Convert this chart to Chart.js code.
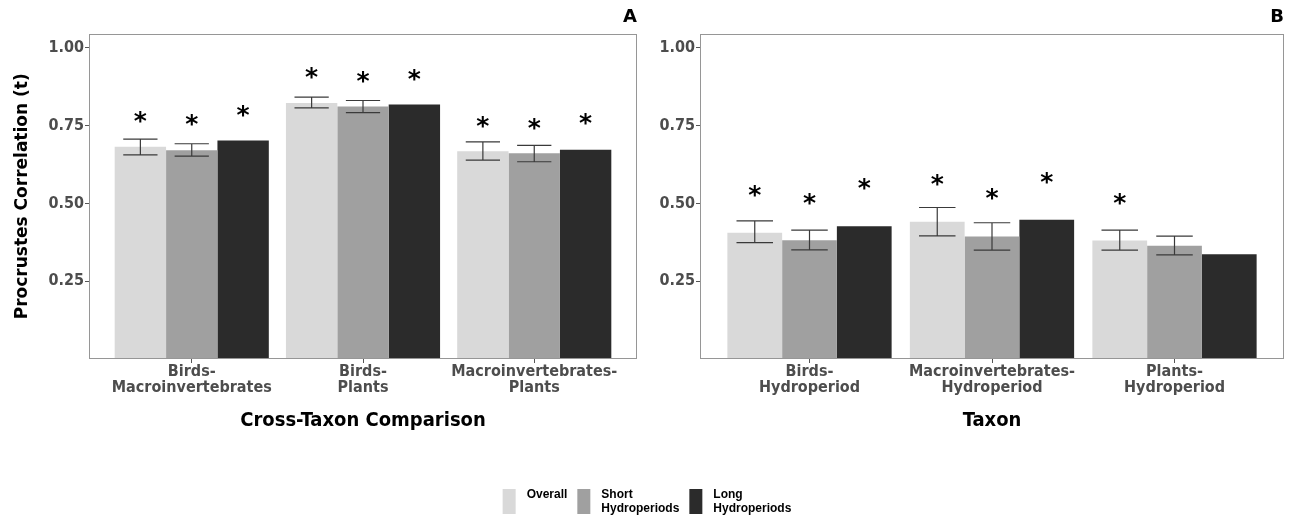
<!DOCTYPE html>
<html>
<head>
<meta charset="utf-8">
<script src="https://cdn.jsdelivr.net/npm/chart.js@4.4.1/dist/chart.umd.min.js"></script>
<style>
    body { margin: 0; background: #fff; width: 1294px; height: 516px; position: relative; overflow: hidden; }
    .panel { position: absolute; }
    #panelA { left: 0; top: 0; width: 647px; height: 440px; }
    #panelB { left: 647px; top: 0; width: 647px; height: 440px; }
    #panelLegend { left: 0; top: 476px; width: 1294px; height: 40px; }
</style>
</head>
<body>
<div class="panel" id="panelA"><canvas id="crossTaxonChart"></canvas></div>
<div class="panel" id="panelB"><canvas id="taxonChart"></canvas></div>
<div class="panel" id="panelLegend"><canvas id="legendChart"></canvas></div>
<script>
// 공통 시리즈
const seriesNames = ['Overall', 'Short Hydroperiods', 'Long Hydroperiods'];
const seriesLegend = [['Overall'], ['Short', 'Hydroperiods'], ['Long', 'Hydroperiods']];
const seriesColors = ['#d9d9d9', '#a0a0a0', '#2b2b2b'];
const yTicks = [0.25, 0.50, 0.75, 1.00];

// A: Cross-Taxon Comparison
const crossLabels = [['Birds-', 'Macroinvertebrates'], ['Birds-', 'Plants'], ['Macroinvertebrates-', 'Plants']];
const crossOverall = [0.682, 0.823, 0.668];
const crossShort = [0.671, 0.812, 0.661];
const crossLong = [0.702, 0.818, 0.673];
const crossOverallErr = [[0.656, 0.707], [0.807, 0.842], [0.639, 0.698]];
const crossShortErr = [[0.652, 0.692], [0.792, 0.831], [0.634, 0.687]];
const crossOverallStar = [0.777, 0.920, 0.763];
const crossShortStar = [0.767, 0.905, 0.754];
const crossLongStar = [0.797, 0.913, 0.770];

// B: Taxon
const taxonLabels = [['Birds-', 'Hydroperiod'], ['Macroinvertebrates-', 'Hydroperiod'], ['Plants-', 'Hydroperiod']];
const taxonOverall = [0.406, 0.441, 0.381];
const taxonShort = [0.382, 0.394, 0.364];
const taxonLong = [0.427, 0.448, 0.337];
const taxonOverallErr = [[0.374, 0.444], [0.396, 0.487], [0.350, 0.414]];
const taxonShortErr = [[0.351, 0.414], [0.350, 0.438], [0.335, 0.395]];
const taxonOverallStar = [0.540, 0.574, 0.515];
const taxonShortStar = [0.515, 0.529, null];
const taxonLongStar = [0.563, 0.581, null];

const tickFont = { family: 'DejaVu Sans Condensed', size: 16, weight: 'bold', lineHeight: 1.05 };

// 패널 테두리
const panelFrame = {
    id: 'panelFrame',
    afterDraw(chart) {
        const { ctx, chartArea } = chart;
        ctx.save();
        ctx.strokeStyle = '#969696';
        ctx.lineWidth = 1;
        ctx.strokeRect(Math.round(chartArea.left) + 0.5, Math.round(chartArea.top) + 0.5,
            Math.round(chartArea.right - chartArea.left) - 1, Math.round(chartArea.bottom - chartArea.top) - 1);
        ctx.restore();
    }
};

// 오차막대 + 별표
const errorStars = {
    id: 'errorStars',
    afterDatasetsDraw(chart) {
        const ctx = chart.ctx;
        const xs = chart.scales.x;
        const ys = chart.scales.y;
        const capHalf = xs.getPixelForValue(0.1) - xs.getPixelForValue(0);
        ctx.save();
        chart.data.datasets.forEach((ds, i) => {
            const meta = chart.getDatasetMeta(i);
            meta.data.forEach((bar, j) => {
                const err = ds.errors ? ds.errors[j] : null;
                if (err) {
                    const lo = ys.getPixelForValue(err[0]);
                    const hi = ys.getPixelForValue(err[1]);
                    ctx.strokeStyle = '#3a3a3a';
                    ctx.lineWidth = 1.2;
                    ctx.beginPath();
                    ctx.moveTo(bar.x, lo); ctx.lineTo(bar.x, hi);
                    ctx.moveTo(bar.x - capHalf, lo); ctx.lineTo(bar.x + capHalf, lo);
                    ctx.moveTo(bar.x - capHalf, hi); ctx.lineTo(bar.x + capHalf, hi);
                    ctx.stroke();
                }
                const star = ds.stars ? ds.stars[j] : null;
                if (star != null) {
                    ctx.font = 'bold 25px "DejaVu Sans"';
                    ctx.fillStyle = '#000';
                    ctx.textAlign = 'center';
                    ctx.textBaseline = 'alphabetic';
                    const m = ctx.measureText('*');
                    const yc = ys.getPixelForValue(star);
                    ctx.fillText('*', bar.x, yc + (m.actualBoundingBoxAscent - m.actualBoundingBoxDescent) / 2);
                }
            });
        });
        ctx.restore();
    }
};

// 하단 범례 (가운데 정렬, 두 줄 라벨)
const keyLegend = {
    id: 'keyLegend',
    afterDraw(chart) {
        const ctx = chart.ctx;
        const boxW = 13, boxH = 25, gap = 11, spacing = 10, lineH = 13.5;
        ctx.save();
        ctx.font = 'bold 12px "Liberation Sans"';
        const widths = seriesLegend.map(lines => Math.max(...lines.map(t => ctx.measureText(t).width)));
        const total = widths.reduce((a, w) => a + boxW + gap + w, 0) + spacing * (widths.length - 1);
        let x = chart.width / 2 - total / 2;
        const top = 13;
        seriesLegend.forEach((lines, i) => {
            ctx.fillStyle = seriesColors[i];
            ctx.fillRect(x, top, boxW, boxH);
            ctx.fillStyle = '#000';
            ctx.textAlign = 'left';
            ctx.textBaseline = 'alphabetic';
            lines.forEach((t, k) => ctx.fillText(t, x + boxW + gap, top + 9 + k * lineH));
            x += boxW + gap + widths[i] + spacing;
        });
        ctx.restore();
    }
};

function makeSet(idx, values, errors, stars) {
    return {
        label: seriesNames[idx],
        data: values.map((v, i) => ({ x: i, y: v })),
        backgroundColor: seriesColors[idx],
        borderWidth: 0,
        categoryPercentage: 0.9,
        barPercentage: 1.0,
        errors: errors,
        stars: stars
    };
}

function makeOptions(labels, panel, xTitle, yTitle, axisWidth) {
    return {
        responsive: true,
        maintainAspectRatio: false,
        animation: false,
        layout: { padding: { left: 0, right: 10, top: 0, bottom: 0 } },
        plugins: {
            legend: { display: false },
            tooltip: { enabled: false },
            title: {
                display: true,
                text: panel,
                align: 'end',
                color: '#000',
                font: { family: 'DejaVu Sans', size: 18, weight: 'bold', lineHeight: 1.2 },
                padding: { top: 7, bottom: 5 }
            }
        },
        scales: {
            x: {
                type: 'linear',
                min: -0.6,
                max: 2.6,
                offset: false,
                border: { display: false },
                grid: { offset: false, drawOnChartArea: false, drawTicks: true, tickLength: 4, color: '#555' },
                afterBuildTicks: (scale) => { scale.ticks = labels.map((l, i) => ({ value: i })); },
                afterFit: (scale) => { scale.height = 81; },
                ticks: {
                    autoSkip: false,
                    maxRotation: 0,
                    minRotation: 0,
                    padding: 0,
                    color: '#4d4d4d',
                    font: tickFont,
                    callback: (v) => labels[v]
                },
                title: {
                    display: true,
                    text: xTitle,
                    color: '#000',
                    font: { family: 'DejaVu Sans Condensed', size: 20, weight: 'bold', lineHeight: 1.2 },
                    padding: { top: 7, bottom: 7 }
                }
            },
            y: {
                min: 0,
                max: 1.046,
                border: { display: false },
                grid: { drawOnChartArea: false, drawTicks: true, tickLength: 4, color: '#555' },
                afterBuildTicks: (scale) => { scale.ticks = yTicks.map(v => ({ value: v })); },
                afterFit: (scale) => { scale.width = axisWidth; },
                ticks: {
                    padding: 1,
                    color: '#4d4d4d',
                    font: tickFont,
                    callback: (v) => v.toFixed(2)
                },
                title: {
                    display: yTitle !== '',
                    text: yTitle,
                    color: '#000',
                    font: { family: 'DejaVu Sans', size: 17, weight: 'bold', lineHeight: 1.2 },
                    padding: { top: 12, bottom: 0 }
                }
            }
        }
    };
}

// A 패널
const crossTaxonChart = new Chart(document.getElementById('crossTaxonChart'), {
    type: 'bar',
    data: {
        datasets: [
            makeSet(0, crossOverall, crossOverallErr, crossOverallStar),
            makeSet(1, crossShort, crossShortErr, crossShortStar),
            makeSet(2, crossLong, null, crossLongStar)
        ]
    },
    options: makeOptions(crossLabels, 'A', 'Cross-Taxon Comparison', 'Procrustes Correlation (t)', 89),
    plugins: [panelFrame, errorStars]
});

// B 패널
const taxonChart = new Chart(document.getElementById('taxonChart'), {
    type: 'bar',
    data: {
        datasets: [
            makeSet(0, taxonOverall, taxonOverallErr, taxonOverallStar),
            makeSet(1, taxonShort, taxonShortErr, taxonShortStar),
            makeSet(2, taxonLong, null, taxonLongStar)
        ]
    },
    options: makeOptions(taxonLabels, 'B', 'Taxon', '', 53),
    plugins: [panelFrame, errorStars]
});

// 범례
const legendChart = new Chart(document.getElementById('legendChart'), {
    type: 'bar',
    data: {
        labels: [],
        datasets: seriesNames.map((n, i) => ({ label: n, data: [], backgroundColor: seriesColors[i] }))
    },
    options: {
        responsive: true,
        maintainAspectRatio: false,
        animation: false,
        scales: { x: { display: false }, y: { display: false } },
        plugins: {
            tooltip: { enabled: false },
            legend: { display: false }
        }
    },
    plugins: [keyLegend]
});
</script>
</body>
</html>
